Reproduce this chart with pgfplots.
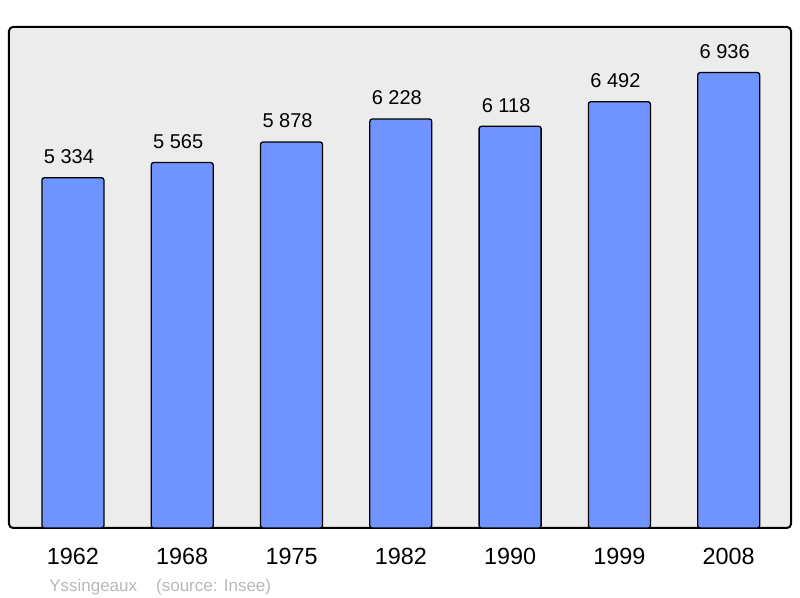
\documentclass[border=0pt]{standalone}
\usepackage{pgfplots}
\pgfplotsset{compat=1.18}
\usepackage{fontspec}
\setmainfont{Liberation Sans}
\usetikzlibrary{calc}
\definecolor{bgray}{HTML}{ECECEC}
\definecolor{barblue}{HTML}{7094FF}
\definecolor{srcgray}{HTML}{B8B8B8}
\begin{document}
\begin{tikzpicture}
  \begin{axis}[
      scale only axis, width=391pt, height=250.5pt,
      xmin=-0.585, xmax=6.57, ymin=0, ymax=7630,
      axis line style={draw=none}, tick style={draw=none}, clip=false,
      axis background/.style={fill=bgray, draw=black, line width=1pt, rounded corners=2pt},
      ybar, bar width=31pt, bar shift=0pt,
      xtick=data, xticklabels={1962,1968,1975,1982,1990,1999,2008},
      xticklabel style={font=\fontsize{11.7pt}{14pt}\selectfont, yshift=-2.5pt},
      ytick=\empty,
      nodes near coords,
      every node near coord/.append style={font=\fontsize{10pt}{12pt}\selectfont, anchor=south, yshift=3.3pt, xshift=-2pt,
        /pgf/number format/1000 sep={\ }, /pgf/number format/assume math mode=true},
    ]
    \addplot[fill=barblue, draw=black, line width=0.65pt, rounded corners=1.2pt]
      coordinates {(0,5334)(1,5565)(2,5878)(3,6228)(4,6118)(5,6492)(6,6936)};
    \node[anchor=west, inner sep=0pt, text=srcgray, font=\fontsize{8.5pt}{10pt}\selectfont]
      at (rel axis cs:0.051,-0.1175) {Yssingeaux\hspace{9.5pt}(source: Insee)};
  \end{axis}
  \path ($(current axis.south west)+(-4.5pt,-35pt)$) rectangle ($(current axis.north east)+(4.5pt,13.5pt)$);
\end{tikzpicture}
\end{document}
